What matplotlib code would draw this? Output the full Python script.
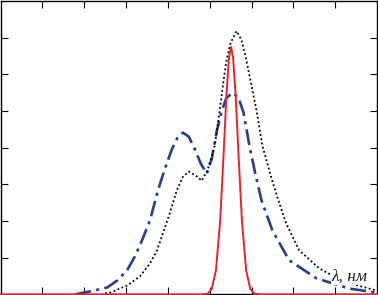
import matplotlib.pyplot as plt

# штрих-пунктир (синяя)
blue_x = [1.79, 1.90, 2.14, 2.55, 2.79, 3.02, 3.21, 3.38, 3.57, 3.76, 3.93, 4.10, 4.24, 4.36,
          4.50, 4.64, 4.79, 4.93, 5.05, 5.17, 5.29, 5.40, 5.55, 5.69, 5.81, 5.95, 6.10, 6.24,
          6.50, 6.90, 7.55, 8.33, 8.98]
blue_y = [0.00, 0.03, 0.08, 0.19, 0.38, 0.65, 1.03, 1.47, 2.01, 2.83, 3.43, 3.97, 4.30, 4.41,
          4.30, 3.97, 3.56, 3.29, 3.70, 4.46, 5.01, 5.36, 5.50, 5.36, 4.95, 4.05, 3.24, 2.56,
          1.74, 0.93, 0.44, 0.16, 0.05]

# пунктир (чёрная)
dot_x = [2.50, 2.62, 3.02, 3.33, 3.57, 3.74, 3.88, 4.05, 4.21, 4.36, 4.50, 4.67, 4.81, 4.95,
         5.12, 5.24, 5.33, 5.40, 5.50, 5.64, 5.76, 5.88, 6.00, 6.12, 6.26, 6.48, 6.62, 6.83,
         7.14, 7.62, 8.02, 8.45, 8.98]
dot_y = [0.03, 0.05, 0.24, 0.49, 0.84, 1.20, 1.66, 2.23, 2.83, 3.21, 3.35, 3.24, 3.10, 3.40,
         4.05, 5.01, 5.82, 6.37, 6.86, 7.18, 6.94, 6.37, 5.69, 5.01, 4.05, 3.16, 2.64, 1.93,
         1.20, 0.71, 0.46, 0.27, 0.11]

# сплошная (красная)
red_x = [0, 4.80, 4.95, 5.05, 5.15, 5.25, 5.33, 5.40, 5.46, 5.51, 5.56, 5.62, 5.69, 5.77,
         5.87, 5.97, 6.07, 6.22, 9]
red_y = [0, 0, 0.02, 0.15, 0.66, 2.01, 3.78, 5.43, 6.45, 6.75, 6.45, 5.43, 3.78, 2.01,
         0.66, 0.15, 0.02, 0, 0]

fig = plt.figure(figsize=(3.78, 2.95), dpi=100)
ax = fig.add_axes([0.6 / 378, 0.6 / 295, 1 - 1.6 / 378, 1 - 1.6 / 295])

ax.plot(blue_x, blue_y, color='#243f93', linestyle=(0, (6, 2, 1.2, 2)), linewidth=1.9)
ax.plot(dot_x, dot_y, color='black', linestyle=(0, (1, 1.4)), linewidth=1.3)
ax.plot(red_x, red_y, color='#e8242b', linewidth=1.4, clip_on=False, zorder=5)

ax.text(7.9, 0.38, 'λ, нм', fontsize=12.5, fontstyle='italic', va='baseline',
        family=['Liberation Serif', 'DejaVu Serif'], color='#222222', zorder=4,
        bbox=dict(facecolor='white', edgecolor='none', pad=0.3))

ax.set_xlim(0, 9)
ax.set_ylim(0, 8)
ax.set_xticks(range(1, 9))
ax.set_yticks(range(1, 8))
ax.tick_params(direction='in', length=5, width=0.8, top=True, right=True,
               labelbottom=False, labelleft=False)
for s in ax.spines.values():
    s.set_linewidth(1.0)

plt.savefig('out.png', dpi=100)
